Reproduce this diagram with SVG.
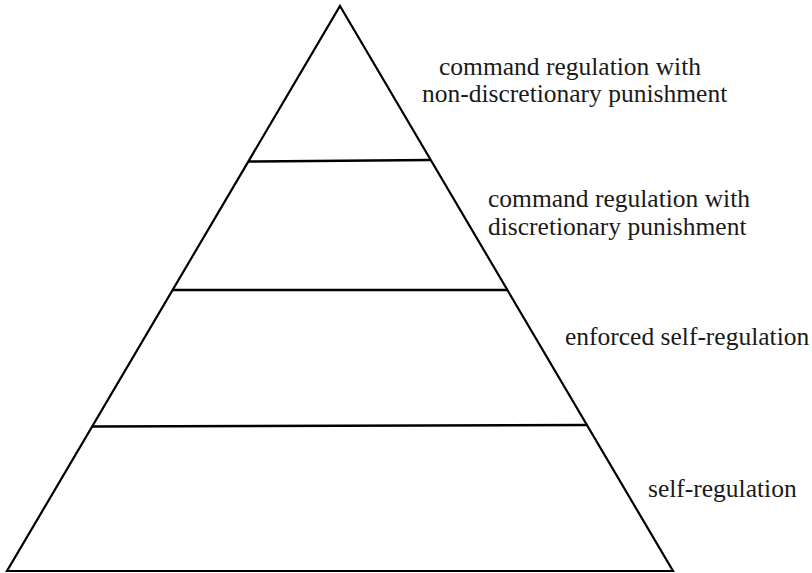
<svg xmlns="http://www.w3.org/2000/svg" width="812" height="573" viewBox="0 0 812 573">
  <style>
    .edge { fill: none; stroke: #000; stroke-width: 2.2; stroke-linejoin: miter; stroke-linecap: butt; }
    .tier { fill: none; stroke: #000; stroke-width: 2.4; }
    .label { font-family: "Liberation Serif", "Times New Roman", serif; font-size: 25.5px; fill: #1a1a1a; }
  </style>
  <rect width="812" height="573" fill="#fff"/>

  <!-- pyramid outline -->
  <g id="pyramid">
    <polygon class="edge" points="340,6 673,571 7,571"/>
  </g>

  <!-- dividing lines between the tiers -->
  <g id="dividers">
    <line class="tier" x1="248.5" y1="161.5" x2="431" y2="160"/>
    <line class="tier" x1="172.5" y1="290" x2="507.5" y2="290"/>
    <line class="tier" x1="92" y1="426.5" x2="587.5" y2="425"/>
  </g>

  <!-- tier labels, top to bottom -->
  <g id="tier-1">
    <text class="label" x="439" y="75">command regulation with</text>
    <text class="label" x="422" y="102">non-discretionary punishment</text>
  </g>
  <g id="tier-2">
    <text class="label" x="488" y="207">command regulation with</text>
    <text class="label" x="488" y="235">discretionary punishment</text>
  </g>
  <g id="tier-3">
    <text class="label" x="565" y="345">enforced self-regulation</text>
  </g>
  <g id="tier-4">
    <text class="label" x="648" y="497">self-regulation</text>
  </g>
</svg>
